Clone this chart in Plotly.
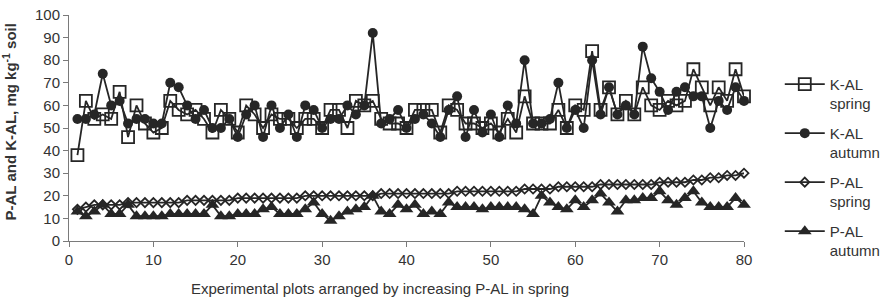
import plotly.graph_objects as go

plots = list(range(1, 81))

k_spring = [38, 62, 54, 56, 54, 66, 46, 60, 52, 48,
            50, 62, 58, 56, 58, 54, 48, 58, 54, 48,
            60, 56, 50, 56, 54, 54, 50, 54, 54, 50,
            58, 58, 50, 62, 60, 62, 54, 52, 52, 50,
            58, 58, 58, 48, 60, 58, 52, 52, 50, 52,
            48, 54, 48, 64, 52, 52, 52, 58, 50, 60,
            58, 84, 58, 68, 56, 62, 56, 68, 60, 58,
            62, 60, 62, 76, 68, 60, 68, 62, 76, 64]

k_autumn = [54, 54, 56, 74, 60, 62, 52, 54, 54, 52,
            52, 70, 68, 60, 54, 58, 50, 50, 54, 46,
            56, 60, 46, 60, 50, 56, 46, 60, 58, 50,
            54, 54, 60, 56, 60, 92, 52, 54, 58, 50,
            54, 56, 52, 46, 58, 64, 46, 58, 48, 56,
            46, 60, 52, 80, 52, 52, 54, 70, 50, 58,
            50, 80, 56, 68, 56, 60, 56, 86, 72, 66,
            58, 66, 68, 64, 64, 50, 62, 58, 68, 62]

p_spring = [14, 15, 16, 16, 16, 16, 17, 17, 17, 17,
            17, 17, 17, 18, 18, 18, 18, 18, 18, 19,
            19, 19, 19, 19, 19, 19, 19, 20, 20, 20,
            20, 20, 20, 20, 20, 20, 21, 21, 21, 21,
            21, 21, 21, 21, 21, 22, 22, 22, 22, 22,
            22, 22, 22, 23, 23, 23, 23, 24, 24, 24,
            24, 24, 25, 25, 25, 25, 25, 25, 25, 26,
            26, 26, 26, 27, 27, 28, 28, 29, 29, 30]

p_autumn = [13, 11, 13, 16, 12, 12, 16, 11, 11, 11,
            11, 12, 12, 12, 12, 12, 16, 11, 11, 12,
            12, 12, 14, 15, 12, 12, 12, 14, 17, 12,
            9, 11, 13, 14, 15, 20, 13, 12, 16, 14,
            16, 12, 13, 12, 17, 15, 15, 15, 14, 15,
            15, 15, 15, 14, 12, 20, 17, 15, 14, 18,
            15, 18, 21, 17, 13, 18, 18, 19, 19, 22,
            18, 16, 19, 22, 17, 15, 15, 15, 19, 16]

series_names = ["K-AL<br>spring", "K-AL<br>autumn", "P-AL<br>spring", "P-AL<br>autumn"]

INK = "#262626"
FONT = "Liberation Sans, Arial, sans-serif"

fig = go.Figure()
specs = [
    (k_spring, dict(symbol="square-open", size=12, line=dict(width=1.8, color=INK), color=INK)),
    (k_autumn, dict(symbol="circle", size=10, color=INK)),
    (p_spring, dict(symbol="diamond-open", size=7, line=dict(width=1.8, color=INK), color=INK)),
    (p_autumn, dict(symbol="triangle-up", size=12, color=INK)),
]
for i, (vals, mk) in enumerate(specs):
    fig.add_trace(go.Scatter(
        x=plots, y=vals, mode="lines+markers", name=series_names[i],
        legendgroup=f"g{i}",
        line=dict(color=INK, width=1.8), marker=mk, cliponaxis=False,
    ))

fig.update_layout(
    width=890, height=300,
    margin=dict(l=69, r=146, t=15, b=59, autoexpand=False),
    plot_bgcolor="white", paper_bgcolor="white",
    font=dict(family=FONT, size=15, color="#333333"),
    showlegend=True,
    legend=dict(x=1.053, y=0.766, xanchor="left", yanchor="top", valign="top",
                traceorder="grouped", tracegroupgap=7, itemwidth=40,
                font=dict(family=FONT, size=15, color="#333333"),
                bgcolor="rgba(0,0,0,0)"),
    xaxis=dict(range=[0, 80], dtick=10, tick0=0, showgrid=False, zeroline=False,
               showline=True, linecolor="#7a7a7a", linewidth=1,
               ticks="outside", ticklen=5, tickcolor="#7a7a7a",
               tickfont=dict(family=FONT, size=15, color="#333333")),
    yaxis=dict(range=[0, 100], dtick=10, tick0=0, showgrid=False, zeroline=False,
               showline=True, linecolor="#7a7a7a", linewidth=1,
               ticks="outside", ticklen=5, tickcolor="#7a7a7a",
               tickfont=dict(family=FONT, size=15, color="#333333")),
    annotations=[
        dict(text="Experimental plots arranged by increasing P-AL in spring",
             xref="paper", yref="paper", x=0.46, y=-0.209, xanchor="center", yanchor="middle",
             showarrow=False, font=dict(family=FONT, size=15, color="#333333")),
        dict(text="<b>P-AL and K-AL, mg kg<sup>-1</sup> soil</b>",
             xref="paper", yref="paper", x=-0.088, y=0.527, xanchor="center", yanchor="middle",
             textangle=-90, showarrow=False, font=dict(family=FONT, size=15, color="#333333")),
    ],
)

fig.write_html("out.html")
